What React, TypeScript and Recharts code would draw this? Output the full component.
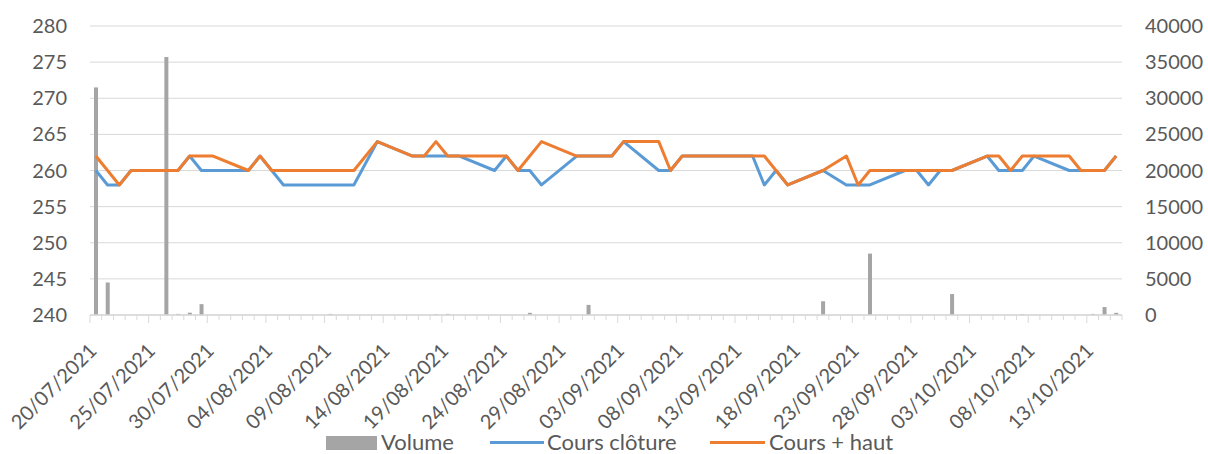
import React from 'react';
import { ComposedChart, Bar, Line, XAxis, YAxis, CartesianGrid, Legend } from 'recharts';

const dates = [
  '20/07/2021', '21/07/2021', '22/07/2021', '23/07/2021', '24/07/2021', '25/07/2021', '26/07/2021', '27/07/2021',
  '28/07/2021', '29/07/2021', '30/07/2021', '31/07/2021', '01/08/2021', '02/08/2021', '03/08/2021', '04/08/2021',
  '05/08/2021', '06/08/2021', '07/08/2021', '08/08/2021', '09/08/2021', '10/08/2021', '11/08/2021', '12/08/2021',
  '13/08/2021', '14/08/2021', '15/08/2021', '16/08/2021', '17/08/2021', '18/08/2021', '19/08/2021', '20/08/2021',
  '21/08/2021', '22/08/2021', '23/08/2021', '24/08/2021', '25/08/2021', '26/08/2021', '27/08/2021', '28/08/2021',
  '29/08/2021', '30/08/2021', '31/08/2021', '01/09/2021', '02/09/2021', '03/09/2021', '04/09/2021', '05/09/2021',
  '06/09/2021', '07/09/2021', '08/09/2021', '09/09/2021', '10/09/2021', '11/09/2021', '12/09/2021', '13/09/2021',
  '14/09/2021', '15/09/2021', '16/09/2021', '17/09/2021', '18/09/2021', '19/09/2021', '20/09/2021', '21/09/2021',
  '22/09/2021', '23/09/2021', '24/09/2021', '25/09/2021', '26/09/2021', '27/09/2021', '28/09/2021', '29/09/2021',
  '30/09/2021', '01/10/2021', '02/10/2021', '03/10/2021', '04/10/2021', '05/10/2021', '06/10/2021', '07/10/2021',
  '08/10/2021', '09/10/2021', '10/10/2021', '11/10/2021', '12/10/2021', '13/10/2021', '14/10/2021', '15/10/2021',
];

// null = pas de cotation ce jour-là
const volume = [
  31500, 4500, 0, 0, null, null, 35700, 150,
  320, 1500, 0, null, null, 0, 0, 0,
  0, 0, null, null, 150, 0, 0, null,
  0, null, null, 0, 0, 100, 150, 0,
  null, null, 0, 0, 0, 300, 0, null,
  null, 0, 1400, 0, 0, 0, null, null,
  0, 0, 0, 0, 0, null, null, 0,
  0, 0, 0, 0, null, null, 1900, null,
  0, 0, 8500, null, null, 0, 0, 0,
  0, 2900, null, null, 0, 0, 0, 100,
  0, null, null, 0, 0, 150, 1100, 300,
];

const coursCloture = [
  260, 258, 258, 260, null, null, 260, 260,
  262, 260, 260, null, null, 260, 262, 260,
  258, 258, null, null, 258, 258, 258, null,
  264, null, null, 262, 262, 262, 262, 262,
  null, null, 260, 262, 260, 260, 258, null,
  null, 262, 262, 262, 262, 264, null, null,
  260, 260, 262, 262, 262, null, null, 262,
  262, 258, 260, 258, null, null, 260, null,
  258, 258, 258, null, null, 260, 260, 258,
  260, 260, null, null, 262, 260, 260, 260,
  262, null, null, 260, 260, 260, 260, 262,
];

const coursHaut = [
  262, 260, 258, 260, null, null, 260, 260,
  262, 262, 262, null, null, 260, 262, 260,
  260, 260, null, null, 260, 260, 260, null,
  264, null, null, 262, 262, 264, 262, 262,
  null, null, 262, 262, 260, 262, 264, null,
  null, 262, 262, 262, 262, 264, null, null,
  264, 260, 262, 262, 262, null, null, 262,
  262, 262, 260, 258, null, null, 260, null,
  262, 258, 260, null, null, 260, 260, 260,
  260, 260, null, null, 262, 262, 260, 262,
  262, null, null, 262, 260, 260, 260, 262,
];

const leftTicks = [240, 245, 250, 255, 260, 265, 270, 275, 280];
const rightTicks = [0, 5000, 10000, 15000, 20000, 25000, 30000, 35000, 40000];
const seriesNames = ['Volume', 'Cours clôture', 'Cours + haut'];

const data = dates.map((d, i) => ({
  date: d,
  volume: volume[i],
  cloture: coursCloture[i],
  haut: coursHaut[i],
}));

const W = 1208;
const H = 454;
const LEFT_W = 90;
const RIGHT_W = 86;
const BAND = (W - LEFT_W - RIGHT_W) / dates.length;
const TEXT = '#595959';
const GRID = '#D9D9D9';
const FONT = 'Lato, "Open Sans", sans-serif';

const DateTick = (props: any) => {
  const { x, y, payload, index } = props;
  const long = index % 5 === 0;
  const bx = x - BAND / 2;
  return (
    <g>
      <line x1={bx} x2={bx} y1={y} y2={y + (long ? 8 : 5)} stroke={GRID} strokeWidth={1} />
      {index === dates.length - 1 && (
        <line x1={x + BAND / 2} x2={x + BAND / 2} y1={y} y2={y + 5} stroke={GRID} strokeWidth={1} />
      )}
      {long && (
        <text
          x={x + 2}
          y={y + 37}
          textAnchor="end"
          transform={`rotate(-45, ${x + 2}, ${y + 37})`}
          fill={TEXT}
          fontSize={20}
          fontFamily={FONT}
        >
          {payload.value}
        </text>
      )}
    </g>
  );
};

const legendPos: Record<string, { swatch: number; sw: number; text: number }> = {
  'Volume': { swatch: 326, sw: 51, text: 381 },
  'Cours clôture': { swatch: 490, sw: 54, text: 547 },
  'Cours + haut': { swatch: 710, sw: 55, text: 769 },
};

const renderLegend = (props: any) => {
  const { payload } = props;
  const ordered = seriesNames
    .map((n) => payload.find((e: any) => e.value === n))
    .filter(Boolean);
  return (
    <div style={{ position: 'relative', width: W, height: 30, fontFamily: FONT, fontSize: 22, color: TEXT }}>
      {ordered.map((entry: any) => {
        const p = legendPos[entry.value];
        return (
          <React.Fragment key={entry.value}>
            {entry.type === 'rect' ? (
              <div style={{ position: 'absolute', left: p.swatch, top: 12, width: p.sw, height: 14, background: entry.color }} />
            ) : (
              <div style={{ position: 'absolute', left: p.swatch, top: 17, width: p.sw, height: 3, background: entry.color }} />
            )}
            <div style={{ position: 'absolute', left: p.text, top: 3, lineHeight: '30px', whiteSpace: 'nowrap' }}>
              {entry.value}
            </div>
          </React.Fragment>
        );
      })}
    </div>
  );
};

const App: React.FC = () => {
  return (
    <div style={{ position: 'absolute', left: 0, top: 0, background: '#fff' }}>
      <ComposedChart width={W} height={H} data={data} margin={{ top: 26, right: 0, left: 0, bottom: 0 }}>
        <CartesianGrid yAxisId="left" vertical={false} stroke={GRID} strokeWidth={1} />
        <XAxis
          dataKey="date"
          interval={0}
          height={109}
          tickSize={0}
          tickMargin={0}
          tickLine={false}
          axisLine={{ stroke: GRID, strokeWidth: 1.5 }}
          tick={<DateTick />}
        />
        <YAxis
          yAxisId="left"
          width={LEFT_W}
          domain={[240, 280]}
          ticks={leftTicks}
          axisLine={false}
          tickLine={false}
          tickMargin={17}
          tick={{ fill: TEXT, fontSize: 20, fontFamily: FONT }}
        />
        <YAxis
          yAxisId="right"
          orientation="right"
          width={RIGHT_W}
          domain={[0, 40000]}
          ticks={rightTicks}
          axisLine={false}
          tickLine={false}
          tickMargin={17}
          tick={{ fill: TEXT, fontSize: 20, fontFamily: FONT, textAnchor: 'start' }}
        />
        <Legend verticalAlign="bottom" content={renderLegend} />
        <Bar yAxisId="right" dataKey="volume" name="Volume" fill="#A5A5A5" barSize={4} isAnimationActive={false} />
        <Line
          yAxisId="left"
          type="linear"
          dataKey="cloture"
          name="Cours clôture"
          stroke="#5B9BD5"
          strokeWidth={3}
          strokeLinejoin="round"
          dot={false}
          activeDot={false}
          connectNulls
          isAnimationActive={false}
        />
        <Line
          yAxisId="left"
          type="linear"
          dataKey="haut"
          name="Cours + haut"
          stroke="#ED7D31"
          strokeWidth={3}
          strokeLinejoin="round"
          dot={false}
          activeDot={false}
          connectNulls
          isAnimationActive={false}
        />
      </ComposedChart>
    </div>
  );
};

export default App;
